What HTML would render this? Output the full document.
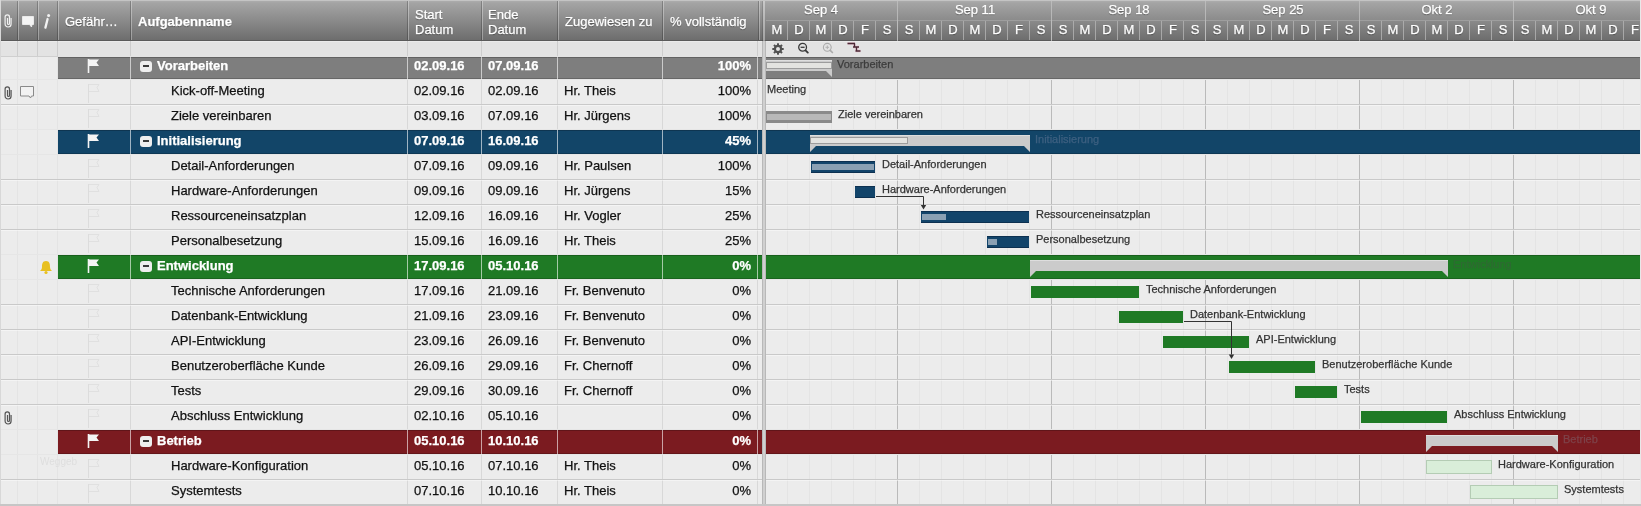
<!DOCTYPE html><html><head><meta charset="utf-8"><style>
html,body{margin:0;padding:0;}
body{width:1641px;height:506px;overflow:hidden;position:relative;background:#ececec;font-family:"Liberation Sans",sans-serif;}
div,span,svg{position:absolute;}
.t{will-change:transform;white-space:nowrap;font-size:13px;line-height:15px;color:#111;-webkit-text-stroke:0.25px currentColor;}
.s{font-size:11px;line-height:13px;color:#3a3a3a;}
.h{color:#fff;text-shadow:0 1px 1px rgba(0,0,0,0.45);}
</style></head><body>
<div style="left:0px;top:0px;width:1641px;height:41px;background:linear-gradient(#b0b0b0 0px,#a4a4a4 3px,#8b8b8b 20px,#6d6d6d 40px);"></div>
<div style="left:0px;top:0px;width:1641px;height:1px;background:#c4c4c4;"></div>
<div style="left:17px;top:1px;width:1px;height:40px;background:rgba(0,0,0,0.22);"></div>
<div style="left:18px;top:1px;width:1px;height:40px;background:rgba(255,255,255,0.32);"></div>
<div style="left:37px;top:1px;width:1px;height:40px;background:rgba(0,0,0,0.22);"></div>
<div style="left:38px;top:1px;width:1px;height:40px;background:rgba(255,255,255,0.32);"></div>
<div style="left:57px;top:1px;width:1px;height:40px;background:rgba(0,0,0,0.22);"></div>
<div style="left:58px;top:1px;width:1px;height:40px;background:rgba(255,255,255,0.32);"></div>
<div style="left:130px;top:1px;width:1px;height:40px;background:rgba(0,0,0,0.22);"></div>
<div style="left:131px;top:1px;width:1px;height:40px;background:rgba(255,255,255,0.32);"></div>
<div style="left:407px;top:1px;width:1px;height:40px;background:rgba(0,0,0,0.22);"></div>
<div style="left:408px;top:1px;width:1px;height:40px;background:rgba(255,255,255,0.32);"></div>
<div style="left:481px;top:1px;width:1px;height:40px;background:rgba(0,0,0,0.22);"></div>
<div style="left:482px;top:1px;width:1px;height:40px;background:rgba(255,255,255,0.32);"></div>
<div style="left:557px;top:1px;width:1px;height:40px;background:rgba(0,0,0,0.22);"></div>
<div style="left:558px;top:1px;width:1px;height:40px;background:rgba(255,255,255,0.32);"></div>
<div style="left:662px;top:1px;width:1px;height:40px;background:rgba(0,0,0,0.22);"></div>
<div style="left:663px;top:1px;width:1px;height:40px;background:rgba(255,255,255,0.32);"></div>
<div style="left:758px;top:1px;width:1px;height:40px;background:rgba(0,0,0,0.22);"></div>
<div style="left:759px;top:1px;width:1px;height:40px;background:rgba(255,255,255,0.32);"></div>
<div style="left:0px;top:40px;width:1641px;height:1px;background:#5a5a5a;"></div>
<span class="t" style="left:65px;top:13.5px;color:#fff;text-shadow:0 1px 1px rgba(0,0,0,.4);">Gefähr…</span>
<span class="t" style="left:138px;top:13.5px;font-weight:bold;color:#fff;text-shadow:0 1px 1px rgba(0,0,0,.4);">Aufgabenname</span>
<span class="t" style="left:415px;top:6.5px;color:#fff;text-shadow:0 1px 1px rgba(0,0,0,.4);">Start</span>
<span class="t" style="left:415px;top:21.5px;color:#fff;text-shadow:0 1px 1px rgba(0,0,0,.4);">Datum</span>
<span class="t" style="left:488px;top:6.5px;color:#fff;text-shadow:0 1px 1px rgba(0,0,0,.4);">Ende</span>
<span class="t" style="left:488px;top:21.5px;color:#fff;text-shadow:0 1px 1px rgba(0,0,0,.4);">Datum</span>
<span class="t" style="left:565px;top:13.5px;color:#fff;text-shadow:0 1px 1px rgba(0,0,0,.4);">Zugewiesen zu</span>
<span class="t" style="left:670px;top:13.5px;color:#fff;text-shadow:0 1px 1px rgba(0,0,0,.4);">% vollständig</span>
<svg style="left:3px;top:14px" width="10" height="14" viewBox="0 0 10 14"><path d="M4.5 4 V9.5 a1 1 0 0 0 2 0 V3 a2.2 2.2 0 0 0 -4.4 0 V10 a3 3 0 0 0 6 0 V4" fill="none" stroke="#f0f0f0" stroke-width="1.2"/></svg>
<svg style="left:21px;top:15px" width="14" height="14" viewBox="0 0 14 14"><path d="M1.5 1.5 H12.5 V9.5 H11 L10.5 12 L8.5 9.5 H1.5 Z" fill="#f4f4f4" stroke="#f4f4f4" stroke-width="0.8" stroke-linejoin="round"/></svg>
<svg style="left:42px;top:13px" width="10" height="17" viewBox="0 0 10 17"><circle cx="6.6" cy="2.6" r="1.5" fill="#f2f2f2"/><path d="M5.6 6 L3.4 14.6" stroke="#f2f2f2" stroke-width="2.3" stroke-linecap="round"/></svg>
<div style="left:766px;top:20px;width:875px;height:1px;background:#a6a6a6;opacity:.7;"></div>
<span class="t" style="left:766px;top:21.5px;width:22px;text-align:center;color:#fff;text-shadow:0 1px 1px rgba(0,0,0,.4);">M</span>
<div style="left:787px;top:21px;width:1px;height:19px;background:#b4b4b4;opacity:.8;"></div>
<span class="t" style="left:788px;top:21.5px;width:22px;text-align:center;color:#fff;text-shadow:0 1px 1px rgba(0,0,0,.4);">D</span>
<div style="left:809px;top:21px;width:1px;height:19px;background:#b4b4b4;opacity:.8;"></div>
<span class="t" style="left:810px;top:21.5px;width:22px;text-align:center;color:#fff;text-shadow:0 1px 1px rgba(0,0,0,.4);">M</span>
<div style="left:831px;top:21px;width:1px;height:19px;background:#b4b4b4;opacity:.8;"></div>
<span class="t" style="left:832px;top:21.5px;width:22px;text-align:center;color:#fff;text-shadow:0 1px 1px rgba(0,0,0,.4);">D</span>
<div style="left:853px;top:21px;width:1px;height:19px;background:#b4b4b4;opacity:.8;"></div>
<span class="t" style="left:854px;top:21.5px;width:22px;text-align:center;color:#fff;text-shadow:0 1px 1px rgba(0,0,0,.4);">F</span>
<div style="left:875px;top:21px;width:1px;height:19px;background:#b4b4b4;opacity:.8;"></div>
<span class="t" style="left:876px;top:21.5px;width:22px;text-align:center;color:#fff;text-shadow:0 1px 1px rgba(0,0,0,.4);">S</span>
<div style="left:897px;top:21px;width:1px;height:19px;background:#b4b4b4;opacity:.8;"></div>
<span class="t" style="left:898px;top:21.5px;width:22px;text-align:center;color:#fff;text-shadow:0 1px 1px rgba(0,0,0,.4);">S</span>
<div style="left:919px;top:21px;width:1px;height:19px;background:#b4b4b4;opacity:.8;"></div>
<span class="t" style="left:920px;top:21.5px;width:22px;text-align:center;color:#fff;text-shadow:0 1px 1px rgba(0,0,0,.4);">M</span>
<div style="left:941px;top:21px;width:1px;height:19px;background:#b4b4b4;opacity:.8;"></div>
<span class="t" style="left:942px;top:21.5px;width:22px;text-align:center;color:#fff;text-shadow:0 1px 1px rgba(0,0,0,.4);">D</span>
<div style="left:963px;top:21px;width:1px;height:19px;background:#b4b4b4;opacity:.8;"></div>
<span class="t" style="left:964px;top:21.5px;width:22px;text-align:center;color:#fff;text-shadow:0 1px 1px rgba(0,0,0,.4);">M</span>
<div style="left:985px;top:21px;width:1px;height:19px;background:#b4b4b4;opacity:.8;"></div>
<span class="t" style="left:986px;top:21.5px;width:22px;text-align:center;color:#fff;text-shadow:0 1px 1px rgba(0,0,0,.4);">D</span>
<div style="left:1007px;top:21px;width:1px;height:19px;background:#b4b4b4;opacity:.8;"></div>
<span class="t" style="left:1008px;top:21.5px;width:22px;text-align:center;color:#fff;text-shadow:0 1px 1px rgba(0,0,0,.4);">F</span>
<div style="left:1029px;top:21px;width:1px;height:19px;background:#b4b4b4;opacity:.8;"></div>
<span class="t" style="left:1030px;top:21.5px;width:22px;text-align:center;color:#fff;text-shadow:0 1px 1px rgba(0,0,0,.4);">S</span>
<div style="left:1051px;top:21px;width:1px;height:19px;background:#b4b4b4;opacity:.8;"></div>
<span class="t" style="left:1052px;top:21.5px;width:22px;text-align:center;color:#fff;text-shadow:0 1px 1px rgba(0,0,0,.4);">S</span>
<div style="left:1073px;top:21px;width:1px;height:19px;background:#b4b4b4;opacity:.8;"></div>
<span class="t" style="left:1074px;top:21.5px;width:22px;text-align:center;color:#fff;text-shadow:0 1px 1px rgba(0,0,0,.4);">M</span>
<div style="left:1095px;top:21px;width:1px;height:19px;background:#b4b4b4;opacity:.8;"></div>
<span class="t" style="left:1096px;top:21.5px;width:22px;text-align:center;color:#fff;text-shadow:0 1px 1px rgba(0,0,0,.4);">D</span>
<div style="left:1117px;top:21px;width:1px;height:19px;background:#b4b4b4;opacity:.8;"></div>
<span class="t" style="left:1118px;top:21.5px;width:22px;text-align:center;color:#fff;text-shadow:0 1px 1px rgba(0,0,0,.4);">M</span>
<div style="left:1139px;top:21px;width:1px;height:19px;background:#b4b4b4;opacity:.8;"></div>
<span class="t" style="left:1140px;top:21.5px;width:22px;text-align:center;color:#fff;text-shadow:0 1px 1px rgba(0,0,0,.4);">D</span>
<div style="left:1161px;top:21px;width:1px;height:19px;background:#b4b4b4;opacity:.8;"></div>
<span class="t" style="left:1162px;top:21.5px;width:22px;text-align:center;color:#fff;text-shadow:0 1px 1px rgba(0,0,0,.4);">F</span>
<div style="left:1183px;top:21px;width:1px;height:19px;background:#b4b4b4;opacity:.8;"></div>
<span class="t" style="left:1184px;top:21.5px;width:22px;text-align:center;color:#fff;text-shadow:0 1px 1px rgba(0,0,0,.4);">S</span>
<div style="left:1205px;top:21px;width:1px;height:19px;background:#b4b4b4;opacity:.8;"></div>
<span class="t" style="left:1206px;top:21.5px;width:22px;text-align:center;color:#fff;text-shadow:0 1px 1px rgba(0,0,0,.4);">S</span>
<div style="left:1227px;top:21px;width:1px;height:19px;background:#b4b4b4;opacity:.8;"></div>
<span class="t" style="left:1228px;top:21.5px;width:22px;text-align:center;color:#fff;text-shadow:0 1px 1px rgba(0,0,0,.4);">M</span>
<div style="left:1249px;top:21px;width:1px;height:19px;background:#b4b4b4;opacity:.8;"></div>
<span class="t" style="left:1250px;top:21.5px;width:22px;text-align:center;color:#fff;text-shadow:0 1px 1px rgba(0,0,0,.4);">D</span>
<div style="left:1271px;top:21px;width:1px;height:19px;background:#b4b4b4;opacity:.8;"></div>
<span class="t" style="left:1272px;top:21.5px;width:22px;text-align:center;color:#fff;text-shadow:0 1px 1px rgba(0,0,0,.4);">M</span>
<div style="left:1293px;top:21px;width:1px;height:19px;background:#b4b4b4;opacity:.8;"></div>
<span class="t" style="left:1294px;top:21.5px;width:22px;text-align:center;color:#fff;text-shadow:0 1px 1px rgba(0,0,0,.4);">D</span>
<div style="left:1315px;top:21px;width:1px;height:19px;background:#b4b4b4;opacity:.8;"></div>
<span class="t" style="left:1316px;top:21.5px;width:22px;text-align:center;color:#fff;text-shadow:0 1px 1px rgba(0,0,0,.4);">F</span>
<div style="left:1337px;top:21px;width:1px;height:19px;background:#b4b4b4;opacity:.8;"></div>
<span class="t" style="left:1338px;top:21.5px;width:22px;text-align:center;color:#fff;text-shadow:0 1px 1px rgba(0,0,0,.4);">S</span>
<div style="left:1359px;top:21px;width:1px;height:19px;background:#b4b4b4;opacity:.8;"></div>
<span class="t" style="left:1360px;top:21.5px;width:22px;text-align:center;color:#fff;text-shadow:0 1px 1px rgba(0,0,0,.4);">S</span>
<div style="left:1381px;top:21px;width:1px;height:19px;background:#b4b4b4;opacity:.8;"></div>
<span class="t" style="left:1382px;top:21.5px;width:22px;text-align:center;color:#fff;text-shadow:0 1px 1px rgba(0,0,0,.4);">M</span>
<div style="left:1403px;top:21px;width:1px;height:19px;background:#b4b4b4;opacity:.8;"></div>
<span class="t" style="left:1404px;top:21.5px;width:22px;text-align:center;color:#fff;text-shadow:0 1px 1px rgba(0,0,0,.4);">D</span>
<div style="left:1425px;top:21px;width:1px;height:19px;background:#b4b4b4;opacity:.8;"></div>
<span class="t" style="left:1426px;top:21.5px;width:22px;text-align:center;color:#fff;text-shadow:0 1px 1px rgba(0,0,0,.4);">M</span>
<div style="left:1447px;top:21px;width:1px;height:19px;background:#b4b4b4;opacity:.8;"></div>
<span class="t" style="left:1448px;top:21.5px;width:22px;text-align:center;color:#fff;text-shadow:0 1px 1px rgba(0,0,0,.4);">D</span>
<div style="left:1469px;top:21px;width:1px;height:19px;background:#b4b4b4;opacity:.8;"></div>
<span class="t" style="left:1470px;top:21.5px;width:22px;text-align:center;color:#fff;text-shadow:0 1px 1px rgba(0,0,0,.4);">F</span>
<div style="left:1491px;top:21px;width:1px;height:19px;background:#b4b4b4;opacity:.8;"></div>
<span class="t" style="left:1492px;top:21.5px;width:22px;text-align:center;color:#fff;text-shadow:0 1px 1px rgba(0,0,0,.4);">S</span>
<div style="left:1513px;top:21px;width:1px;height:19px;background:#b4b4b4;opacity:.8;"></div>
<span class="t" style="left:1514px;top:21.5px;width:22px;text-align:center;color:#fff;text-shadow:0 1px 1px rgba(0,0,0,.4);">S</span>
<div style="left:1535px;top:21px;width:1px;height:19px;background:#b4b4b4;opacity:.8;"></div>
<span class="t" style="left:1536px;top:21.5px;width:22px;text-align:center;color:#fff;text-shadow:0 1px 1px rgba(0,0,0,.4);">M</span>
<div style="left:1557px;top:21px;width:1px;height:19px;background:#b4b4b4;opacity:.8;"></div>
<span class="t" style="left:1558px;top:21.5px;width:22px;text-align:center;color:#fff;text-shadow:0 1px 1px rgba(0,0,0,.4);">D</span>
<div style="left:1579px;top:21px;width:1px;height:19px;background:#b4b4b4;opacity:.8;"></div>
<span class="t" style="left:1580px;top:21.5px;width:22px;text-align:center;color:#fff;text-shadow:0 1px 1px rgba(0,0,0,.4);">M</span>
<div style="left:1601px;top:21px;width:1px;height:19px;background:#b4b4b4;opacity:.8;"></div>
<span class="t" style="left:1602px;top:21.5px;width:22px;text-align:center;color:#fff;text-shadow:0 1px 1px rgba(0,0,0,.4);">D</span>
<div style="left:1623px;top:21px;width:1px;height:19px;background:#b4b4b4;opacity:.8;"></div>
<span class="t" style="left:1624px;top:21.5px;width:22px;text-align:center;color:#fff;text-shadow:0 1px 1px rgba(0,0,0,.4);">F</span>
<span class="t" style="left:744px;top:1.5px;width:154px;text-align:center;color:#fff;text-shadow:0 1px 1px rgba(0,0,0,.4);">Sep 4</span>
<div style="left:897px;top:1px;width:1px;height:40px;background:#c0c0c0;opacity:.8;"></div>
<span class="t" style="left:898px;top:1.5px;width:154px;text-align:center;color:#fff;text-shadow:0 1px 1px rgba(0,0,0,.4);">Sep 11</span>
<div style="left:1051px;top:1px;width:1px;height:40px;background:#c0c0c0;opacity:.8;"></div>
<span class="t" style="left:1052px;top:1.5px;width:154px;text-align:center;color:#fff;text-shadow:0 1px 1px rgba(0,0,0,.4);">Sep 18</span>
<div style="left:1205px;top:1px;width:1px;height:40px;background:#c0c0c0;opacity:.8;"></div>
<span class="t" style="left:1206px;top:1.5px;width:154px;text-align:center;color:#fff;text-shadow:0 1px 1px rgba(0,0,0,.4);">Sep 25</span>
<div style="left:1359px;top:1px;width:1px;height:40px;background:#c0c0c0;opacity:.8;"></div>
<span class="t" style="left:1360px;top:1.5px;width:154px;text-align:center;color:#fff;text-shadow:0 1px 1px rgba(0,0,0,.4);">Okt 2</span>
<div style="left:1513px;top:1px;width:1px;height:40px;background:#c0c0c0;opacity:.8;"></div>
<span class="t" style="left:1514px;top:1.5px;width:154px;text-align:center;color:#fff;text-shadow:0 1px 1px rgba(0,0,0,.4);">Okt 9</span>
<div style="left:0px;top:41px;width:1641px;height:16px;background:#e3e3e3;"></div>
<div style="left:0px;top:41px;width:1641px;height:1px;background:#ebebeb;"></div>
<div style="left:0px;top:56px;width:58px;height:1px;background:#cfcfcf;"></div>
<div style="left:17px;top:41px;width:1px;height:15px;background:#cdcdcd;"></div>
<div style="left:37px;top:41px;width:1px;height:15px;background:#cdcdcd;"></div>
<div style="left:57px;top:41px;width:1px;height:15px;background:#cdcdcd;"></div>
<div style="left:130px;top:41px;width:1px;height:15px;background:#cdcdcd;"></div>
<div style="left:407px;top:41px;width:1px;height:15px;background:#cdcdcd;"></div>
<div style="left:481px;top:41px;width:1px;height:15px;background:#cdcdcd;"></div>
<div style="left:557px;top:41px;width:1px;height:15px;background:#cdcdcd;"></div>
<div style="left:662px;top:41px;width:1px;height:15px;background:#cdcdcd;"></div>
<div style="left:757px;top:41px;width:1px;height:15px;background:#cdcdcd;"></div>
<svg style="left:771px;top:42px" width="14" height="14" viewBox="0 0 14 14"><g fill="#505050"><rect x="6" y="1.3" width="2" height="2.4" transform="rotate(0 7 7)"/><rect x="6" y="1.3" width="2" height="2.4" transform="rotate(45 7 7)"/><rect x="6" y="1.3" width="2" height="2.4" transform="rotate(90 7 7)"/><rect x="6" y="1.3" width="2" height="2.4" transform="rotate(135 7 7)"/><rect x="6" y="1.3" width="2" height="2.4" transform="rotate(180 7 7)"/><rect x="6" y="1.3" width="2" height="2.4" transform="rotate(225 7 7)"/><rect x="6" y="1.3" width="2" height="2.4" transform="rotate(270 7 7)"/><rect x="6" y="1.3" width="2" height="2.4" transform="rotate(315 7 7)"/></g><circle cx="7" cy="7" r="3.1" fill="none" stroke="#505050" stroke-width="2.2"/></svg>
<svg style="left:796px;top:41px" width="14" height="14" viewBox="0 0 14 14"><circle cx="6.6" cy="6.3" r="3.9" fill="none" stroke="#3a3a3a" stroke-width="1.3"/><path d="M4.6 6.3 H8.6" stroke="#3a3a3a" stroke-width="1.3"/><path d="M9.5 9.3 L11.8 11.6" stroke="#3a3a3a" stroke-width="1.9" stroke-linecap="round"/></svg>
<svg style="left:821px;top:41px" width="14" height="14" viewBox="0 0 14 14"><circle cx="6.3" cy="6.3" r="3.9" fill="none" stroke="#ababab" stroke-width="1.1"/><path d="M4.5 6.3 H8.1 M6.3 4.5 V8.1" stroke="#b0b0b0" stroke-width="1"/><path d="M9.2 9.3 L11.4 11.5" stroke="#ababab" stroke-width="1.7" stroke-linecap="round"/></svg>
<svg style="left:846px;top:42px" width="16" height="12" viewBox="0 0 16 12"><path d="M1.5 1.5 H9 M8.5 1.5 V5 M7 5 H13 M10.5 5 V9 M9.5 9 H14.5" fill="none" stroke="#e8a8c0" stroke-width="2.4" opacity="0.6"/><path d="M1.5 1.5 H9 M8.5 1.5 V5 M7 5 H13 M10.5 5 V9 M9.5 9 H14.5" fill="none" stroke="#4a2a36" stroke-width="1.3"/></svg>
<div style="left:17px;top:57px;width:1px;height:449px;background:#e4e4e4;"></div>
<div style="left:37px;top:57px;width:1px;height:449px;background:#e4e4e4;"></div>
<div style="left:57px;top:57px;width:1px;height:449px;background:#e4e4e4;"></div>
<div style="left:130px;top:57px;width:1px;height:449px;background:#d8d8d8;"></div>
<div style="left:407px;top:57px;width:1px;height:449px;background:#d8d8d8;"></div>
<div style="left:481px;top:57px;width:1px;height:449px;background:#d8d8d8;"></div>
<div style="left:557px;top:57px;width:1px;height:449px;background:#d8d8d8;"></div>
<div style="left:662px;top:57px;width:1px;height:449px;background:#d8d8d8;"></div>
<div style="left:757px;top:57px;width:1px;height:449px;background:#d8d8d8;"></div>
<div style="left:787px;top:57px;width:1px;height:449px;background:#e4e4e4;"></div>
<div style="left:809px;top:57px;width:1px;height:449px;background:#e4e4e4;"></div>
<div style="left:831px;top:57px;width:1px;height:449px;background:#e4e4e4;"></div>
<div style="left:853px;top:57px;width:1px;height:449px;background:#e4e4e4;"></div>
<div style="left:875px;top:57px;width:1px;height:449px;background:#e4e4e4;"></div>
<div style="left:897px;top:57px;width:1px;height:449px;background:#bababa;"></div>
<div style="left:919px;top:57px;width:1px;height:449px;background:#e4e4e4;"></div>
<div style="left:941px;top:57px;width:1px;height:449px;background:#e4e4e4;"></div>
<div style="left:963px;top:57px;width:1px;height:449px;background:#e4e4e4;"></div>
<div style="left:985px;top:57px;width:1px;height:449px;background:#e4e4e4;"></div>
<div style="left:1007px;top:57px;width:1px;height:449px;background:#e4e4e4;"></div>
<div style="left:1029px;top:57px;width:1px;height:449px;background:#e4e4e4;"></div>
<div style="left:1051px;top:57px;width:1px;height:449px;background:#bababa;"></div>
<div style="left:1073px;top:57px;width:1px;height:449px;background:#e4e4e4;"></div>
<div style="left:1095px;top:57px;width:1px;height:449px;background:#e4e4e4;"></div>
<div style="left:1117px;top:57px;width:1px;height:449px;background:#e4e4e4;"></div>
<div style="left:1139px;top:57px;width:1px;height:449px;background:#e4e4e4;"></div>
<div style="left:1161px;top:57px;width:1px;height:449px;background:#e4e4e4;"></div>
<div style="left:1183px;top:57px;width:1px;height:449px;background:#e4e4e4;"></div>
<div style="left:1205px;top:57px;width:1px;height:449px;background:#bababa;"></div>
<div style="left:1227px;top:57px;width:1px;height:449px;background:#e4e4e4;"></div>
<div style="left:1249px;top:57px;width:1px;height:449px;background:#e4e4e4;"></div>
<div style="left:1271px;top:57px;width:1px;height:449px;background:#e4e4e4;"></div>
<div style="left:1293px;top:57px;width:1px;height:449px;background:#e4e4e4;"></div>
<div style="left:1315px;top:57px;width:1px;height:449px;background:#e4e4e4;"></div>
<div style="left:1337px;top:57px;width:1px;height:449px;background:#e4e4e4;"></div>
<div style="left:1359px;top:57px;width:1px;height:449px;background:#bababa;"></div>
<div style="left:1381px;top:57px;width:1px;height:449px;background:#e4e4e4;"></div>
<div style="left:1403px;top:57px;width:1px;height:449px;background:#e4e4e4;"></div>
<div style="left:1425px;top:57px;width:1px;height:449px;background:#e4e4e4;"></div>
<div style="left:1447px;top:57px;width:1px;height:449px;background:#e4e4e4;"></div>
<div style="left:1469px;top:57px;width:1px;height:449px;background:#e4e4e4;"></div>
<div style="left:1491px;top:57px;width:1px;height:449px;background:#e4e4e4;"></div>
<div style="left:1513px;top:57px;width:1px;height:449px;background:#bababa;"></div>
<div style="left:1535px;top:57px;width:1px;height:449px;background:#e4e4e4;"></div>
<div style="left:1557px;top:57px;width:1px;height:449px;background:#e4e4e4;"></div>
<div style="left:1579px;top:57px;width:1px;height:449px;background:#e4e4e4;"></div>
<div style="left:1601px;top:57px;width:1px;height:449px;background:#e4e4e4;"></div>
<div style="left:1623px;top:57px;width:1px;height:449px;background:#e4e4e4;"></div>
<div style="left:58px;top:57px;width:704px;height:22px;background:#7e7e7e;"></div>
<div style="left:766px;top:57px;width:874px;height:22px;background:#7e7e7e;"></div>
<div style="left:58px;top:57px;width:704px;height:1px;background:rgba(0,0,0,0.22);"></div>
<div style="left:766px;top:57px;width:874px;height:1px;background:rgba(0,0,0,0.22);"></div>
<div style="left:58px;top:78px;width:704px;height:1px;background:rgba(0,0,0,0.18);"></div>
<div style="left:766px;top:78px;width:874px;height:1px;background:rgba(0,0,0,0.18);"></div>
<div style="left:130px;top:57px;width:1px;height:22px;background:rgba(255,255,255,0.6);"></div>
<div style="left:407px;top:57px;width:1px;height:22px;background:rgba(255,255,255,0.6);"></div>
<div style="left:481px;top:57px;width:1px;height:22px;background:rgba(255,255,255,0.6);"></div>
<div style="left:557px;top:57px;width:1px;height:22px;background:rgba(255,255,255,0.6);"></div>
<div style="left:662px;top:57px;width:1px;height:22px;background:rgba(255,255,255,0.6);"></div>
<div style="left:757px;top:57px;width:1px;height:22px;background:rgba(255,255,255,0.6);"></div>
<div style="left:140px;top:60.5px;width:12px;height:11.5px;background:#eeeeee;border-radius:3px;"></div>
<div style="left:143px;top:65px;width:6px;height:2px;background:#3a3a3a;"></div>
<span class="t" style="left:157px;top:58px;font-weight:bold;color:#fff;">Vorarbeiten</span>
<span class="t" style="left:414px;top:58px;font-weight:bold;color:#fff;">02.09.16</span>
<span class="t" style="left:488px;top:58px;font-weight:bold;color:#fff;">07.09.16</span>
<span class="t" style="left:663px;top:58px;width:88px;text-align:right;font-weight:bold;color:#fff;">100%</span>
<svg style="left:87px;top:58px" width="14" height="16" viewBox="0 0 14 16"><path d="M1.5 1 V15" stroke="#f4f4f4" stroke-width="1.6"/><path d="M2 1.5 H12 L9.5 4.5 L12 8 H2 Z" fill="#f4f4f4"/></svg>
<div style="left:0px;top:79px;width:1641px;height:1px;background:#e6e6e6;"></div>
<span class="t" style="left:171px;top:83px;">Kick-off-Meeting</span>
<span class="t" style="left:414px;top:83px;">02.09.16</span>
<span class="t" style="left:488px;top:83px;">02.09.16</span>
<span class="t" style="left:564px;top:83px;">Hr. Theis</span>
<span class="t" style="left:663px;top:83px;width:88px;text-align:right;">100%</span>
<svg style="left:87px;top:83px" width="14" height="21" viewBox="0 0 14 21"><path d="M1.5 1 V20" stroke="#dcdcdc" stroke-width="1"/><path d="M2 1.5 H12 L10 4.5 L12 8.5 H2" fill="none" stroke="#e0e0e0" stroke-width="1"/></svg>
<div style="left:0px;top:104px;width:1641px;height:1px;background:#c9c9c9;"></div>
<span class="t" style="left:171px;top:108px;">Ziele vereinbaren</span>
<span class="t" style="left:414px;top:108px;">03.09.16</span>
<span class="t" style="left:488px;top:108px;">07.09.16</span>
<span class="t" style="left:564px;top:108px;">Hr. Jürgens</span>
<span class="t" style="left:663px;top:108px;width:88px;text-align:right;">100%</span>
<svg style="left:87px;top:108px" width="14" height="21" viewBox="0 0 14 21"><path d="M1.5 1 V20" stroke="#dcdcdc" stroke-width="1"/><path d="M2 1.5 H12 L10 4.5 L12 8.5 H2" fill="none" stroke="#e0e0e0" stroke-width="1"/></svg>
<div style="left:0px;top:129px;width:1641px;height:1px;background:#e6e6e6;"></div>
<div style="left:0px;top:105px;width:1641px;height:1px;background:rgba(255,255,255,0.45);"></div>
<div style="left:58px;top:130px;width:704px;height:24px;background:#124568;"></div>
<div style="left:766px;top:130px;width:874px;height:24px;background:#124568;"></div>
<div style="left:58px;top:130px;width:704px;height:1px;background:rgba(0,0,0,0.22);"></div>
<div style="left:766px;top:130px;width:874px;height:1px;background:rgba(0,0,0,0.22);"></div>
<div style="left:58px;top:153px;width:704px;height:1px;background:rgba(0,0,0,0.18);"></div>
<div style="left:766px;top:153px;width:874px;height:1px;background:rgba(0,0,0,0.18);"></div>
<div style="left:130px;top:130px;width:1px;height:24px;background:rgba(255,255,255,0.6);"></div>
<div style="left:407px;top:130px;width:1px;height:24px;background:rgba(255,255,255,0.6);"></div>
<div style="left:481px;top:130px;width:1px;height:24px;background:rgba(255,255,255,0.6);"></div>
<div style="left:557px;top:130px;width:1px;height:24px;background:rgba(255,255,255,0.6);"></div>
<div style="left:662px;top:130px;width:1px;height:24px;background:rgba(255,255,255,0.6);"></div>
<div style="left:757px;top:130px;width:1px;height:24px;background:rgba(255,255,255,0.6);"></div>
<div style="left:140px;top:135.5px;width:12px;height:11.5px;background:#eeeeee;border-radius:3px;"></div>
<div style="left:143px;top:140px;width:6px;height:2px;background:#3a3a3a;"></div>
<span class="t" style="left:157px;top:133px;font-weight:bold;color:#fff;">Initialisierung</span>
<span class="t" style="left:414px;top:133px;font-weight:bold;color:#fff;">07.09.16</span>
<span class="t" style="left:488px;top:133px;font-weight:bold;color:#fff;">16.09.16</span>
<span class="t" style="left:663px;top:133px;width:88px;text-align:right;font-weight:bold;color:#fff;">45%</span>
<svg style="left:87px;top:133px" width="14" height="16" viewBox="0 0 14 16"><path d="M1.5 1 V15" stroke="#f4f4f4" stroke-width="1.6"/><path d="M2 1.5 H12 L9.5 4.5 L12 8 H2 Z" fill="#f4f4f4"/></svg>
<div style="left:0px;top:154px;width:1641px;height:1px;background:#e6e6e6;"></div>
<span class="t" style="left:171px;top:158px;">Detail-Anforderungen</span>
<span class="t" style="left:414px;top:158px;">07.09.16</span>
<span class="t" style="left:488px;top:158px;">09.09.16</span>
<span class="t" style="left:564px;top:158px;">Hr. Paulsen</span>
<span class="t" style="left:663px;top:158px;width:88px;text-align:right;">100%</span>
<svg style="left:87px;top:158px" width="14" height="21" viewBox="0 0 14 21"><path d="M1.5 1 V20" stroke="#dcdcdc" stroke-width="1"/><path d="M2 1.5 H12 L10 4.5 L12 8.5 H2" fill="none" stroke="#e0e0e0" stroke-width="1"/></svg>
<div style="left:0px;top:179px;width:1641px;height:1px;background:#c9c9c9;"></div>
<span class="t" style="left:171px;top:183px;">Hardware-Anforderungen</span>
<span class="t" style="left:414px;top:183px;">09.09.16</span>
<span class="t" style="left:488px;top:183px;">09.09.16</span>
<span class="t" style="left:564px;top:183px;">Hr. Jürgens</span>
<span class="t" style="left:663px;top:183px;width:88px;text-align:right;">15%</span>
<svg style="left:87px;top:183px" width="14" height="21" viewBox="0 0 14 21"><path d="M1.5 1 V20" stroke="#dcdcdc" stroke-width="1"/><path d="M2 1.5 H12 L10 4.5 L12 8.5 H2" fill="none" stroke="#e0e0e0" stroke-width="1"/></svg>
<div style="left:0px;top:204px;width:1641px;height:1px;background:#c9c9c9;"></div>
<div style="left:0px;top:180px;width:1641px;height:1px;background:rgba(255,255,255,0.45);"></div>
<span class="t" style="left:171px;top:208px;">Ressourceneinsatzplan</span>
<span class="t" style="left:414px;top:208px;">12.09.16</span>
<span class="t" style="left:488px;top:208px;">16.09.16</span>
<span class="t" style="left:564px;top:208px;">Hr. Vogler</span>
<span class="t" style="left:663px;top:208px;width:88px;text-align:right;">25%</span>
<svg style="left:87px;top:208px" width="14" height="21" viewBox="0 0 14 21"><path d="M1.5 1 V20" stroke="#dcdcdc" stroke-width="1"/><path d="M2 1.5 H12 L10 4.5 L12 8.5 H2" fill="none" stroke="#e0e0e0" stroke-width="1"/></svg>
<div style="left:0px;top:229px;width:1641px;height:1px;background:#c9c9c9;"></div>
<div style="left:0px;top:205px;width:1641px;height:1px;background:rgba(255,255,255,0.45);"></div>
<span class="t" style="left:171px;top:233px;">Personalbesetzung</span>
<span class="t" style="left:414px;top:233px;">15.09.16</span>
<span class="t" style="left:488px;top:233px;">16.09.16</span>
<span class="t" style="left:564px;top:233px;">Hr. Theis</span>
<span class="t" style="left:663px;top:233px;width:88px;text-align:right;">25%</span>
<svg style="left:87px;top:233px" width="14" height="21" viewBox="0 0 14 21"><path d="M1.5 1 V20" stroke="#dcdcdc" stroke-width="1"/><path d="M2 1.5 H12 L10 4.5 L12 8.5 H2" fill="none" stroke="#e0e0e0" stroke-width="1"/></svg>
<div style="left:0px;top:254px;width:1641px;height:1px;background:#e6e6e6;"></div>
<div style="left:0px;top:230px;width:1641px;height:1px;background:rgba(255,255,255,0.45);"></div>
<div style="left:58px;top:255px;width:704px;height:24px;background:#1f7a25;"></div>
<div style="left:766px;top:255px;width:874px;height:24px;background:#1f7a25;"></div>
<div style="left:58px;top:255px;width:704px;height:1px;background:rgba(0,0,0,0.22);"></div>
<div style="left:766px;top:255px;width:874px;height:1px;background:rgba(0,0,0,0.22);"></div>
<div style="left:58px;top:278px;width:704px;height:1px;background:rgba(0,0,0,0.18);"></div>
<div style="left:766px;top:278px;width:874px;height:1px;background:rgba(0,0,0,0.18);"></div>
<div style="left:130px;top:255px;width:1px;height:24px;background:rgba(255,255,255,0.6);"></div>
<div style="left:407px;top:255px;width:1px;height:24px;background:rgba(255,255,255,0.6);"></div>
<div style="left:481px;top:255px;width:1px;height:24px;background:rgba(255,255,255,0.6);"></div>
<div style="left:557px;top:255px;width:1px;height:24px;background:rgba(255,255,255,0.6);"></div>
<div style="left:662px;top:255px;width:1px;height:24px;background:rgba(255,255,255,0.6);"></div>
<div style="left:757px;top:255px;width:1px;height:24px;background:rgba(255,255,255,0.6);"></div>
<div style="left:140px;top:260.5px;width:12px;height:11.5px;background:#eeeeee;border-radius:3px;"></div>
<div style="left:143px;top:265px;width:6px;height:2px;background:#3a3a3a;"></div>
<span class="t" style="left:157px;top:258px;font-weight:bold;color:#fff;">Entwicklung</span>
<span class="t" style="left:414px;top:258px;font-weight:bold;color:#fff;">17.09.16</span>
<span class="t" style="left:488px;top:258px;font-weight:bold;color:#fff;">05.10.16</span>
<span class="t" style="left:663px;top:258px;width:88px;text-align:right;font-weight:bold;color:#fff;">0%</span>
<svg style="left:87px;top:258px" width="14" height="16" viewBox="0 0 14 16"><path d="M1.5 1 V15" stroke="#f4f4f4" stroke-width="1.6"/><path d="M2 1.5 H12 L9.5 4.5 L12 8 H2 Z" fill="#f4f4f4"/></svg>
<div style="left:0px;top:279px;width:1641px;height:1px;background:#e6e6e6;"></div>
<span class="t" style="left:171px;top:283px;">Technische Anforderungen</span>
<span class="t" style="left:414px;top:283px;">17.09.16</span>
<span class="t" style="left:488px;top:283px;">21.09.16</span>
<span class="t" style="left:564px;top:283px;">Fr. Benvenuto</span>
<span class="t" style="left:663px;top:283px;width:88px;text-align:right;">0%</span>
<svg style="left:87px;top:283px" width="14" height="21" viewBox="0 0 14 21"><path d="M1.5 1 V20" stroke="#dcdcdc" stroke-width="1"/><path d="M2 1.5 H12 L10 4.5 L12 8.5 H2" fill="none" stroke="#e0e0e0" stroke-width="1"/></svg>
<div style="left:0px;top:304px;width:1641px;height:1px;background:#c9c9c9;"></div>
<span class="t" style="left:171px;top:308px;">Datenbank-Entwicklung</span>
<span class="t" style="left:414px;top:308px;">21.09.16</span>
<span class="t" style="left:488px;top:308px;">23.09.16</span>
<span class="t" style="left:564px;top:308px;">Fr. Benvenuto</span>
<span class="t" style="left:663px;top:308px;width:88px;text-align:right;">0%</span>
<svg style="left:87px;top:308px" width="14" height="21" viewBox="0 0 14 21"><path d="M1.5 1 V20" stroke="#dcdcdc" stroke-width="1"/><path d="M2 1.5 H12 L10 4.5 L12 8.5 H2" fill="none" stroke="#e0e0e0" stroke-width="1"/></svg>
<div style="left:0px;top:329px;width:1641px;height:1px;background:#c9c9c9;"></div>
<div style="left:0px;top:305px;width:1641px;height:1px;background:rgba(255,255,255,0.45);"></div>
<span class="t" style="left:171px;top:333px;">API-Entwicklung</span>
<span class="t" style="left:414px;top:333px;">23.09.16</span>
<span class="t" style="left:488px;top:333px;">26.09.16</span>
<span class="t" style="left:564px;top:333px;">Fr. Benvenuto</span>
<span class="t" style="left:663px;top:333px;width:88px;text-align:right;">0%</span>
<svg style="left:87px;top:333px" width="14" height="21" viewBox="0 0 14 21"><path d="M1.5 1 V20" stroke="#dcdcdc" stroke-width="1"/><path d="M2 1.5 H12 L10 4.5 L12 8.5 H2" fill="none" stroke="#e0e0e0" stroke-width="1"/></svg>
<div style="left:0px;top:354px;width:1641px;height:1px;background:#c9c9c9;"></div>
<div style="left:0px;top:330px;width:1641px;height:1px;background:rgba(255,255,255,0.45);"></div>
<span class="t" style="left:171px;top:358px;">Benutzeroberfläche Kunde</span>
<span class="t" style="left:414px;top:358px;">26.09.16</span>
<span class="t" style="left:488px;top:358px;">29.09.16</span>
<span class="t" style="left:564px;top:358px;">Fr. Chernoff</span>
<span class="t" style="left:663px;top:358px;width:88px;text-align:right;">0%</span>
<svg style="left:87px;top:358px" width="14" height="21" viewBox="0 0 14 21"><path d="M1.5 1 V20" stroke="#dcdcdc" stroke-width="1"/><path d="M2 1.5 H12 L10 4.5 L12 8.5 H2" fill="none" stroke="#e0e0e0" stroke-width="1"/></svg>
<div style="left:0px;top:379px;width:1641px;height:1px;background:#c9c9c9;"></div>
<div style="left:0px;top:355px;width:1641px;height:1px;background:rgba(255,255,255,0.45);"></div>
<span class="t" style="left:171px;top:383px;">Tests</span>
<span class="t" style="left:414px;top:383px;">29.09.16</span>
<span class="t" style="left:488px;top:383px;">30.09.16</span>
<span class="t" style="left:564px;top:383px;">Fr. Chernoff</span>
<span class="t" style="left:663px;top:383px;width:88px;text-align:right;">0%</span>
<svg style="left:87px;top:383px" width="14" height="21" viewBox="0 0 14 21"><path d="M1.5 1 V20" stroke="#dcdcdc" stroke-width="1"/><path d="M2 1.5 H12 L10 4.5 L12 8.5 H2" fill="none" stroke="#e0e0e0" stroke-width="1"/></svg>
<div style="left:0px;top:404px;width:1641px;height:1px;background:#c9c9c9;"></div>
<div style="left:0px;top:380px;width:1641px;height:1px;background:rgba(255,255,255,0.45);"></div>
<span class="t" style="left:171px;top:408px;">Abschluss Entwicklung</span>
<span class="t" style="left:414px;top:408px;">02.10.16</span>
<span class="t" style="left:488px;top:408px;">05.10.16</span>
<span class="t" style="left:564px;top:408px;"></span>
<span class="t" style="left:663px;top:408px;width:88px;text-align:right;">0%</span>
<svg style="left:87px;top:408px" width="14" height="21" viewBox="0 0 14 21"><path d="M1.5 1 V20" stroke="#dcdcdc" stroke-width="1"/><path d="M2 1.5 H12 L10 4.5 L12 8.5 H2" fill="none" stroke="#e0e0e0" stroke-width="1"/></svg>
<div style="left:0px;top:429px;width:1641px;height:1px;background:#e6e6e6;"></div>
<div style="left:0px;top:405px;width:1641px;height:1px;background:rgba(255,255,255,0.45);"></div>
<div style="left:58px;top:430px;width:704px;height:24px;background:#7b1b20;"></div>
<div style="left:766px;top:430px;width:874px;height:24px;background:#7b1b20;"></div>
<div style="left:58px;top:430px;width:704px;height:1px;background:rgba(0,0,0,0.22);"></div>
<div style="left:766px;top:430px;width:874px;height:1px;background:rgba(0,0,0,0.22);"></div>
<div style="left:58px;top:453px;width:704px;height:1px;background:rgba(0,0,0,0.18);"></div>
<div style="left:766px;top:453px;width:874px;height:1px;background:rgba(0,0,0,0.18);"></div>
<div style="left:130px;top:430px;width:1px;height:24px;background:rgba(255,255,255,0.6);"></div>
<div style="left:407px;top:430px;width:1px;height:24px;background:rgba(255,255,255,0.6);"></div>
<div style="left:481px;top:430px;width:1px;height:24px;background:rgba(255,255,255,0.6);"></div>
<div style="left:557px;top:430px;width:1px;height:24px;background:rgba(255,255,255,0.6);"></div>
<div style="left:662px;top:430px;width:1px;height:24px;background:rgba(255,255,255,0.6);"></div>
<div style="left:757px;top:430px;width:1px;height:24px;background:rgba(255,255,255,0.6);"></div>
<div style="left:140px;top:435.5px;width:12px;height:11.5px;background:#eeeeee;border-radius:3px;"></div>
<div style="left:143px;top:440px;width:6px;height:2px;background:#3a3a3a;"></div>
<span class="t" style="left:157px;top:433px;font-weight:bold;color:#fff;">Betrieb</span>
<span class="t" style="left:414px;top:433px;font-weight:bold;color:#fff;">05.10.16</span>
<span class="t" style="left:488px;top:433px;font-weight:bold;color:#fff;">10.10.16</span>
<span class="t" style="left:663px;top:433px;width:88px;text-align:right;font-weight:bold;color:#fff;">0%</span>
<svg style="left:87px;top:433px" width="14" height="16" viewBox="0 0 14 16"><path d="M1.5 1 V15" stroke="#f4f4f4" stroke-width="1.6"/><path d="M2 1.5 H12 L9.5 4.5 L12 8 H2 Z" fill="#f4f4f4"/></svg>
<div style="left:0px;top:454px;width:1641px;height:1px;background:#e6e6e6;"></div>
<span class="t" style="left:171px;top:458px;">Hardware-Konfiguration</span>
<span class="t" style="left:414px;top:458px;">05.10.16</span>
<span class="t" style="left:488px;top:458px;">07.10.16</span>
<span class="t" style="left:564px;top:458px;">Hr. Theis</span>
<span class="t" style="left:663px;top:458px;width:88px;text-align:right;">0%</span>
<svg style="left:87px;top:458px" width="14" height="21" viewBox="0 0 14 21"><path d="M1.5 1 V20" stroke="#dcdcdc" stroke-width="1"/><path d="M2 1.5 H12 L10 4.5 L12 8.5 H2" fill="none" stroke="#e0e0e0" stroke-width="1"/></svg>
<div style="left:0px;top:479px;width:1641px;height:1px;background:#c9c9c9;"></div>
<span class="t" style="left:171px;top:483px;">Systemtests</span>
<span class="t" style="left:414px;top:483px;">07.10.16</span>
<span class="t" style="left:488px;top:483px;">10.10.16</span>
<span class="t" style="left:564px;top:483px;">Hr. Theis</span>
<span class="t" style="left:663px;top:483px;width:88px;text-align:right;">0%</span>
<svg style="left:87px;top:483px" width="14" height="21" viewBox="0 0 14 21"><path d="M1.5 1 V20" stroke="#dcdcdc" stroke-width="1"/><path d="M2 1.5 H12 L10 4.5 L12 8.5 H2" fill="none" stroke="#e0e0e0" stroke-width="1"/></svg>
<div style="left:0px;top:504px;width:1641px;height:1px;background:#c9c9c9;"></div>
<div style="left:0px;top:480px;width:1641px;height:1px;background:rgba(255,255,255,0.45);"></div>
<div style="left:762px;top:41px;width:4px;height:465px;background:#b8b8b8;"></div>
<div style="left:763px;top:41px;width:2px;height:465px;background:#d0d0d0;"></div>
<div style="left:763px;top:1px;width:2px;height:40px;background:rgba(255,255,255,0.38);"></div>
<div style="left:762px;top:1px;width:1px;height:40px;background:rgba(0,0,0,0.12);"></div>
<div style="left:0px;top:0px;width:1px;height:506px;background:#d8d8d8;"></div>
<div style="left:1640px;top:0px;width:1px;height:506px;background:#e8e8e8;"></div>
<div style="left:0px;top:504px;width:1641px;height:2px;background:#c6c6c6;"></div>
<svg style="left:766px;top:60px" width="66" height="18" viewBox="0 0 66 18"><path d="M0 0 H66 V17 L60 11 H0 Z" fill="#cbcbcb"/><path d="M0 0.5 H66" stroke="#dedede" stroke-width="1"/>
<rect x="0.5" y="2.5" width="65" height="6" fill="#e3e3e0" stroke="#9c9c9c" stroke-width="1"/>
</svg>
<span class="t" style="left:837px;top:58px;font-size:11px;line-height:13px;color:#3c3c3c;">Vorarbeiten</span>
<span class="t" style="left:767px;top:83px;font-size:11px;line-height:13px;color:#333;">Meeting</span>
<div style="left:766px;top:111px;width:66px;height:12px;background:#8a8a8a;"></div>
<div style="left:767px;top:113.5px;width:64px;height:6.5px;background:#b8b8b8;"></div>
<span class="t" style="left:838px;top:108px;font-size:11px;line-height:13px;color:#333;">Ziele vereinbaren</span>
<svg style="left:810px;top:135px" width="220" height="18" viewBox="0 0 220 18"><path d="M0 0 H220 V17 L214 11 H6 L0 17 Z" fill="#cbcbcb"/><path d="M0 0.5 H220" stroke="#dedede" stroke-width="1"/>
<rect x="0.5" y="2.5" width="97" height="6" fill="#e3e3e0" stroke="#9c9c9c" stroke-width="1"/>
</svg>
<span class="t" style="left:1035px;top:133px;font-size:11px;line-height:13px;color:#3d6080;">Initialisierung</span>
<div style="left:811px;top:161px;width:64px;height:12px;background:#12446a;"></div>
<div style="left:811px;top:161px;width:64px;height:1px;background:#0c3050;"></div>
<div style="left:811px;top:172px;width:64px;height:1px;background:#0c3050;"></div>
<div style="left:812px;top:163.5px;width:62px;height:6.5px;background:#8aa0b3;"></div>
<span class="t" style="left:882px;top:158px;font-size:11px;line-height:13px;color:#333;">Detail-Anforderungen</span>
<div style="left:855px;top:186px;width:20px;height:12px;background:#12446a;"></div>
<div style="left:855px;top:186px;width:20px;height:1px;background:#0c3050;"></div>
<div style="left:855px;top:197px;width:20px;height:1px;background:#0c3050;"></div>
<span class="t" style="left:882px;top:183px;font-size:11px;line-height:13px;color:#333;">Hardware-Anforderungen</span>
<div style="left:921px;top:211px;width:108px;height:12px;background:#12446a;"></div>
<div style="left:921px;top:211px;width:108px;height:1px;background:#0c3050;"></div>
<div style="left:921px;top:222px;width:108px;height:1px;background:#0c3050;"></div>
<div style="left:922px;top:213.5px;width:24px;height:6.5px;background:#8aa0b3;"></div>
<span class="t" style="left:1036px;top:208px;font-size:11px;line-height:13px;color:#333;">Ressourceneinsatzplan</span>
<div style="left:987px;top:236px;width:42px;height:12px;background:#12446a;"></div>
<div style="left:987px;top:236px;width:42px;height:1px;background:#0c3050;"></div>
<div style="left:987px;top:247px;width:42px;height:1px;background:#0c3050;"></div>
<div style="left:988px;top:238.5px;width:9px;height:6.5px;background:#8aa0b3;"></div>
<span class="t" style="left:1036px;top:233px;font-size:11px;line-height:13px;color:#333;">Personalbesetzung</span>
<svg style="left:1030px;top:260px" width="418" height="18" viewBox="0 0 418 18"><path d="M0 0 H418 V17 L412 11 H6 L0 17 Z" fill="#cbcbcb"/><path d="M0 0.5 H418" stroke="#dedede" stroke-width="1"/>
</svg>
<span class="t" style="left:1453px;top:258px;font-size:11px;line-height:13px;color:#2f6a33;">Entwicklung</span>
<div style="left:1031px;top:286px;width:108px;height:12px;background:#1f7a25;"></div>
<span class="t" style="left:1146px;top:283px;font-size:11px;line-height:13px;color:#333;">Technische Anforderungen</span>
<div style="left:1119px;top:311px;width:64px;height:12px;background:#1f7a25;"></div>
<span class="t" style="left:1190px;top:308px;font-size:11px;line-height:13px;color:#333;">Datenbank-Entwicklung</span>
<div style="left:1163px;top:336px;width:86px;height:12px;background:#1f7a25;"></div>
<span class="t" style="left:1256px;top:333px;font-size:11px;line-height:13px;color:#333;">API-Entwicklung</span>
<div style="left:1229px;top:361px;width:86px;height:12px;background:#1f7a25;"></div>
<span class="t" style="left:1322px;top:358px;font-size:11px;line-height:13px;color:#333;">Benutzeroberfläche Kunde</span>
<div style="left:1295px;top:386px;width:42px;height:12px;background:#1f7a25;"></div>
<span class="t" style="left:1344px;top:383px;font-size:11px;line-height:13px;color:#333;">Tests</span>
<div style="left:1361px;top:411px;width:86px;height:12px;background:#1f7a25;"></div>
<span class="t" style="left:1454px;top:408px;font-size:11px;line-height:13px;color:#333;">Abschluss Entwicklung</span>
<svg style="left:1426px;top:435px" width="132" height="18" viewBox="0 0 132 18"><path d="M0 0 H132 V17 L126 11 H6 L0 17 Z" fill="#cbcbcb"/><path d="M0 0.5 H132" stroke="#dedede" stroke-width="1"/>
</svg>
<span class="t" style="left:1563px;top:433px;font-size:11px;line-height:13px;color:#7e434a;">Betrieb</span>
<div style="left:1426px;top:460px;width:66px;height:14px;background:#d9eed9;border:1px solid #b4ccb4;box-sizing:border-box;"></div>
<span class="t" style="left:1498px;top:458px;font-size:11px;line-height:13px;color:#333;">Hardware-Konfiguration</span>
<div style="left:1470px;top:485px;width:88px;height:14px;background:#d9eed9;border:1px solid #b4ccb4;box-sizing:border-box;"></div>
<span class="t" style="left:1564px;top:483px;font-size:11px;line-height:13px;color:#333;">Systemtests</span>
<svg style="left:876px;top:195px" width="53" height="16" viewBox="0 0 53 16"><path d="M0 1.5 H47.5 V10" fill="none" stroke="#333" stroke-width="1"/><path d="M44.8 10 L47.5 14.5 L50.2 10 Z" fill="#333"/></svg>
<svg style="left:1184px;top:320px" width="53" height="40.5" viewBox="0 0 53 40.5"><path d="M0 1.5 H47.5 V34.5" fill="none" stroke="#333" stroke-width="1"/><path d="M44.8 34.5 L47.5 39.0 L50.2 34.5 Z" fill="#333"/></svg>
<span class="t" style="left:40px;top:456px;font-size:10px;line-height:12px;color:#dedede;-webkit-text-stroke:0;">Weggeb</span>
<svg style="left:38px;top:260px" width="16" height="15" viewBox="0 0 16 15"><path d="M8 1 C4.5 1 4 4 4 7 C4 9 3 10 2 11 H14 C13 10 12 9 12 7 C12 4 11.5 1 8 1 Z" fill="#e8c020"/><circle cx="8" cy="12.5" r="1.6" fill="#e8c020"/></svg>
<svg style="left:3px;top:86px" width="10" height="14" viewBox="0 0 10 14"><path d="M4.5 4 V9.5 a1 1 0 0 0 2 0 V3 a2.2 2.2 0 0 0 -4.4 0 V10 a3 3 0 0 0 6 0 V4" fill="none" stroke="#555" stroke-width="1.2"/></svg>
<svg style="left:3px;top:411px" width="10" height="14" viewBox="0 0 10 14"><path d="M4.5 4 V9.5 a1 1 0 0 0 2 0 V3 a2.2 2.2 0 0 0 -4.4 0 V10 a3 3 0 0 0 6 0 V4" fill="none" stroke="#555" stroke-width="1.2"/></svg>
<svg style="left:19px;top:85px" width="16" height="15" viewBox="0 0 16 15"><path d="M1.5 1.5 H14.5 V11 H12.5 L11.5 13 L10 11 H1.5 Z" fill="#f2f2f2" stroke="#8a8a8a" stroke-width="1" stroke-linejoin="round"/></svg>
</body></html>
